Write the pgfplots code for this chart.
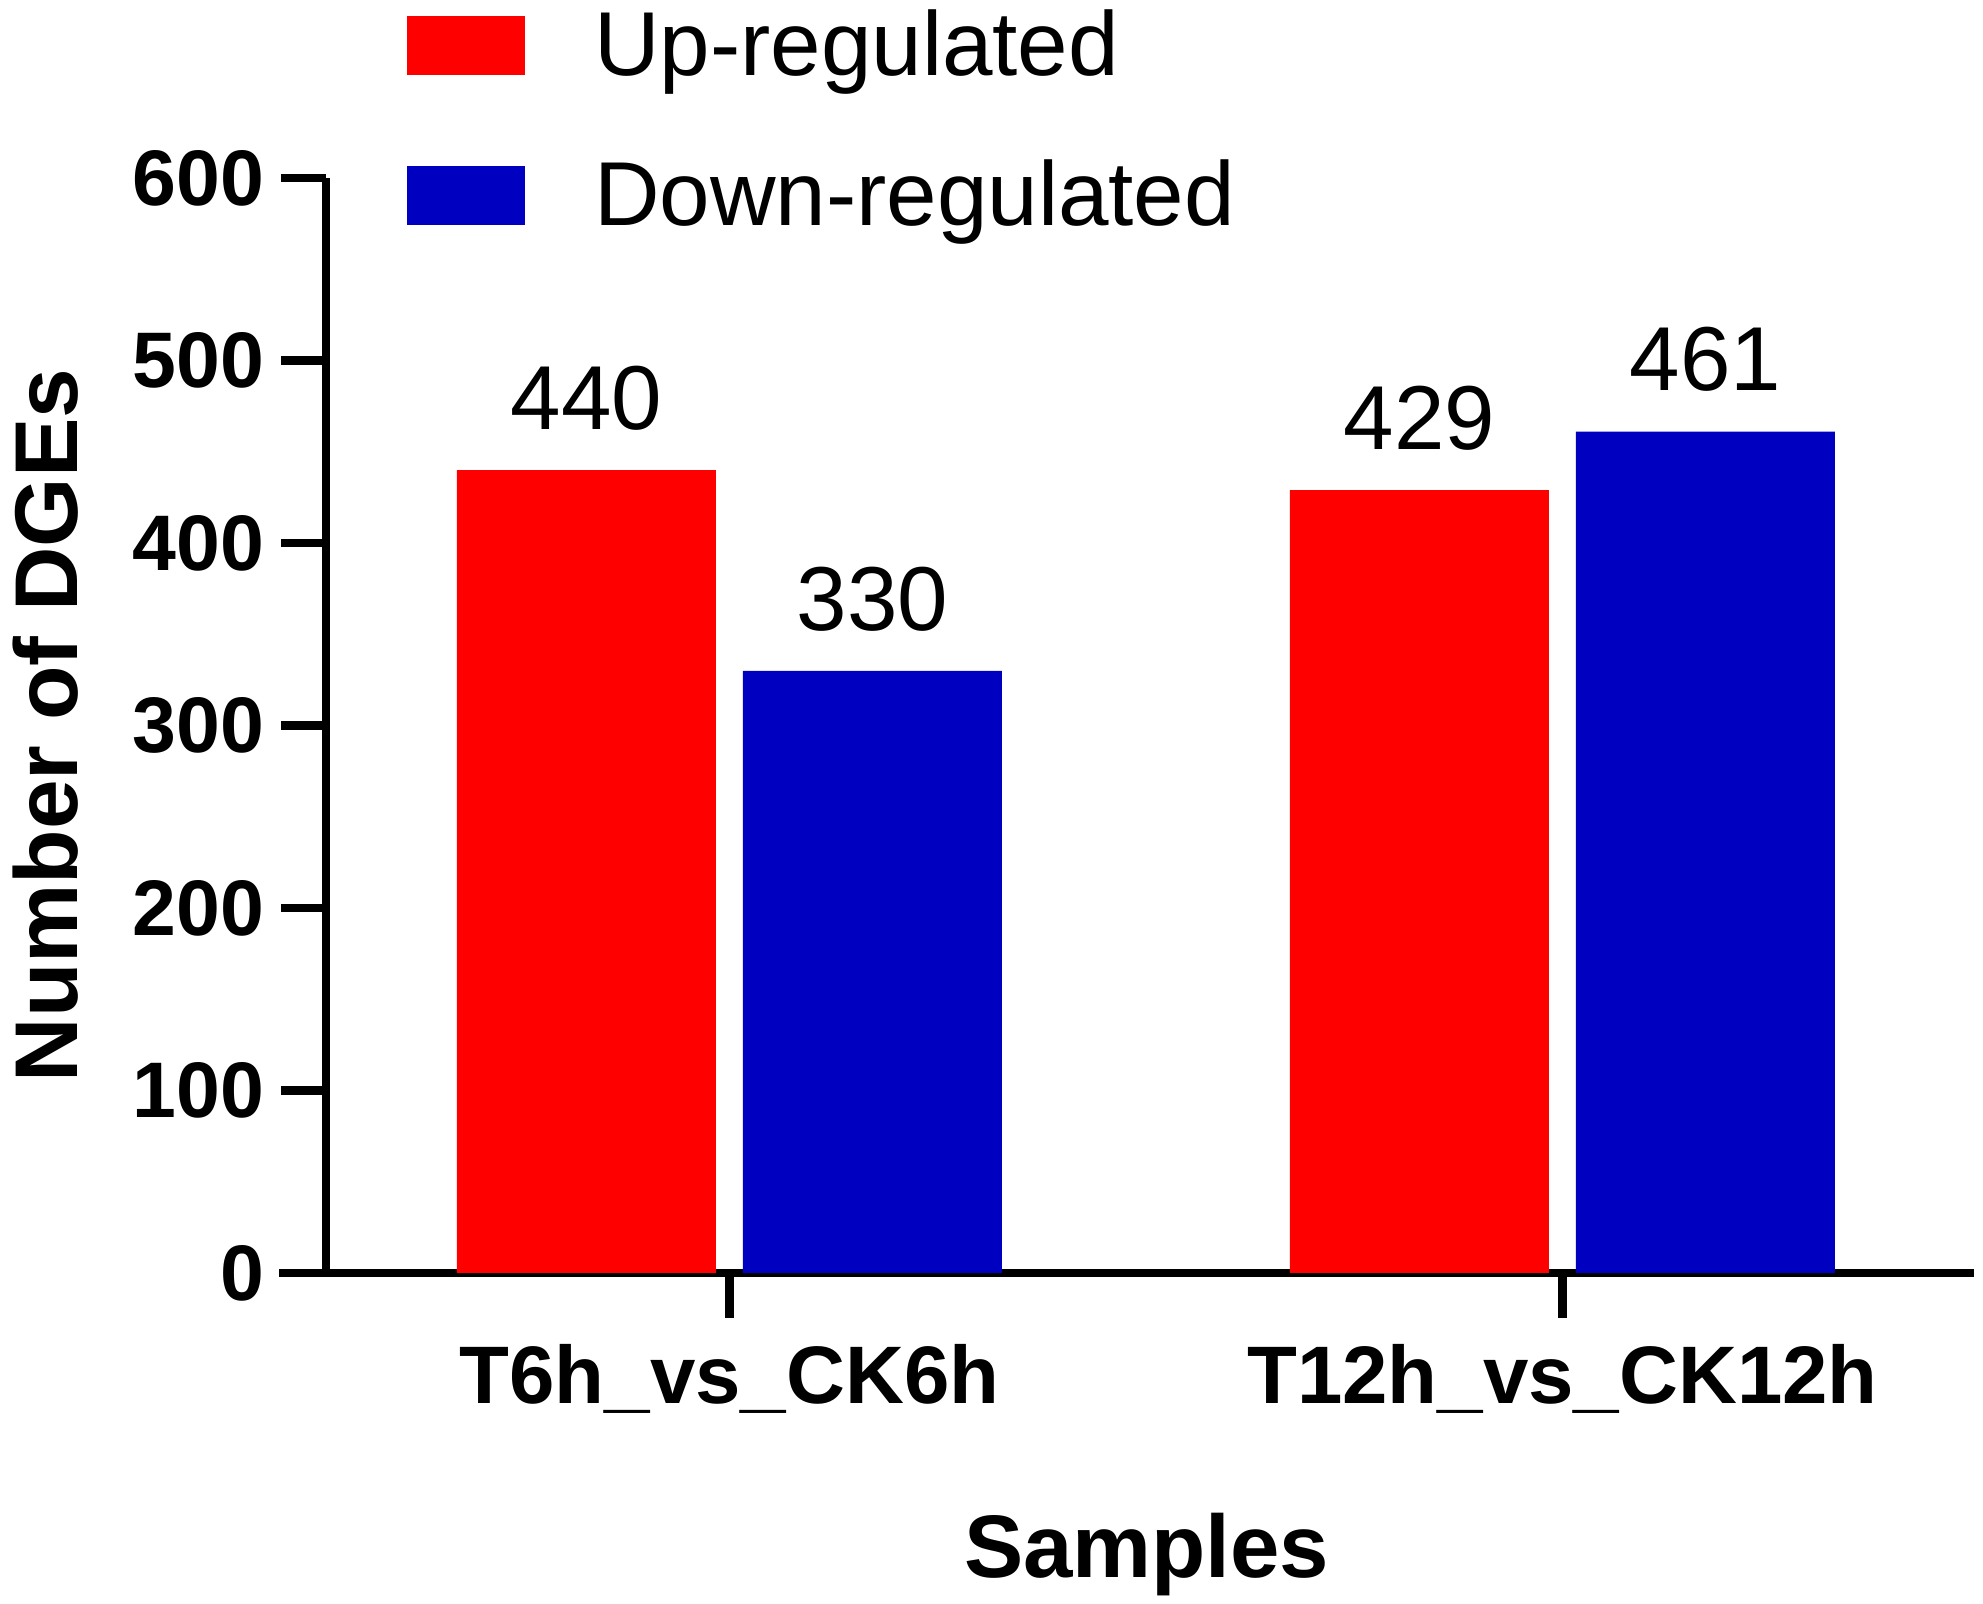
\documentclass[border=0pt]{standalone}
\usepackage{fontspec}
\setmainfont{Liberation Sans}
\usepackage{pgfplots}
\pgfplotsset{compat=1.18}
\definecolor{upred}{RGB}{255,0,0}
\definecolor{downblue}{RGB}{0,0,192}
\begin{document}
\begin{tikzpicture}
\useasboundingbox (-81.5pt,-82.75pt) rectangle (414.25pt,318.25pt);
\begin{axis}[
  at={(0,0)}, anchor=south west,
  scale only axis,
  width=412pt, height=273.75pt,
  xmin=-0.4844, xmax=1.494,
  ymin=0, ymax=600,
  axis x line=bottom, axis y line=left,
  x axis line style={-, line width=2.2pt, shorten <=-11.75pt},
  y axis line style={-, line width=2.2pt},
  xtick={0,1},
  xticklabels={T6h\_vs\_CK6h, T12h\_vs\_CK12h},
  ytick={0,100,...,600},
  tick align=outside,
  major tick length=11.25pt,
  major tick style={line width=2.1pt, black},
  /pgf/number format/assume math mode=true,
  yticklabel style={font=\bfseries\fontsize{19.7}{22}\selectfont, inner sep=0pt, anchor=east, xshift=-4pt},
  xticklabel style={font=\bfseries\fontsize{20.4}{24}\selectfont, inner sep=0pt, anchor=north, yshift=-6.5pt},
  xlabel={Samples},
  xlabel style={at={(rel axis cs:0.498,-0.2785)}, anchor=base, font=\bfseries\fontsize{22.2}{26}\selectfont},
  ylabel={Number of DGEs},
  ylabel style={at={(rel axis cs:-0.1505,0.5)}, anchor=base, rotate=0, font=\bfseries\fontsize{22.3}{26}\selectfont},
  legend style={draw=none, fill=none, inner sep=0pt, outer sep=0pt,
    at={(rel axis cs:0.0492,1.1534)}, anchor=north west,
    font=\fontsize{22.7}{27}\selectfont,
    row sep=19.5pt, column sep=17.25pt,
    nodes={inner sep=0pt}},
  legend cell align=left,
  clip=false,
]
\addplot[ybar, bar width=64.75pt, bar shift=-35.75pt, fill=upred, draw=none,
  nodes near coords,
  every node near coord/.append style={font=\fontsize{22.7}{27}\selectfont, inner sep=0pt, anchor=south, yshift=9.75pt, xshift=-35.75pt},
  legend image code/.code={\fill[upred] (0pt,-7.375pt) rectangle (29.5pt,7.375pt);}]
  coordinates {(0,440) (1,429)};
\addlegendentry{Up-regulated}
\addplot[ybar, bar width=64.75pt, bar shift=35.75pt, fill=downblue, draw=none,
  nodes near coords,
  every node near coord/.append style={font=\fontsize{22.7}{27}\selectfont, inner sep=0pt, anchor=south, yshift=9.75pt, xshift=35.75pt},
  legend image code/.code={\fill[downblue] (0pt,-7.375pt) rectangle (29.5pt,7.375pt);}]
  coordinates {(0,330) (1,461)};
\addlegendentry{Down-regulated}
\end{axis}
\end{tikzpicture}
\end{document}
